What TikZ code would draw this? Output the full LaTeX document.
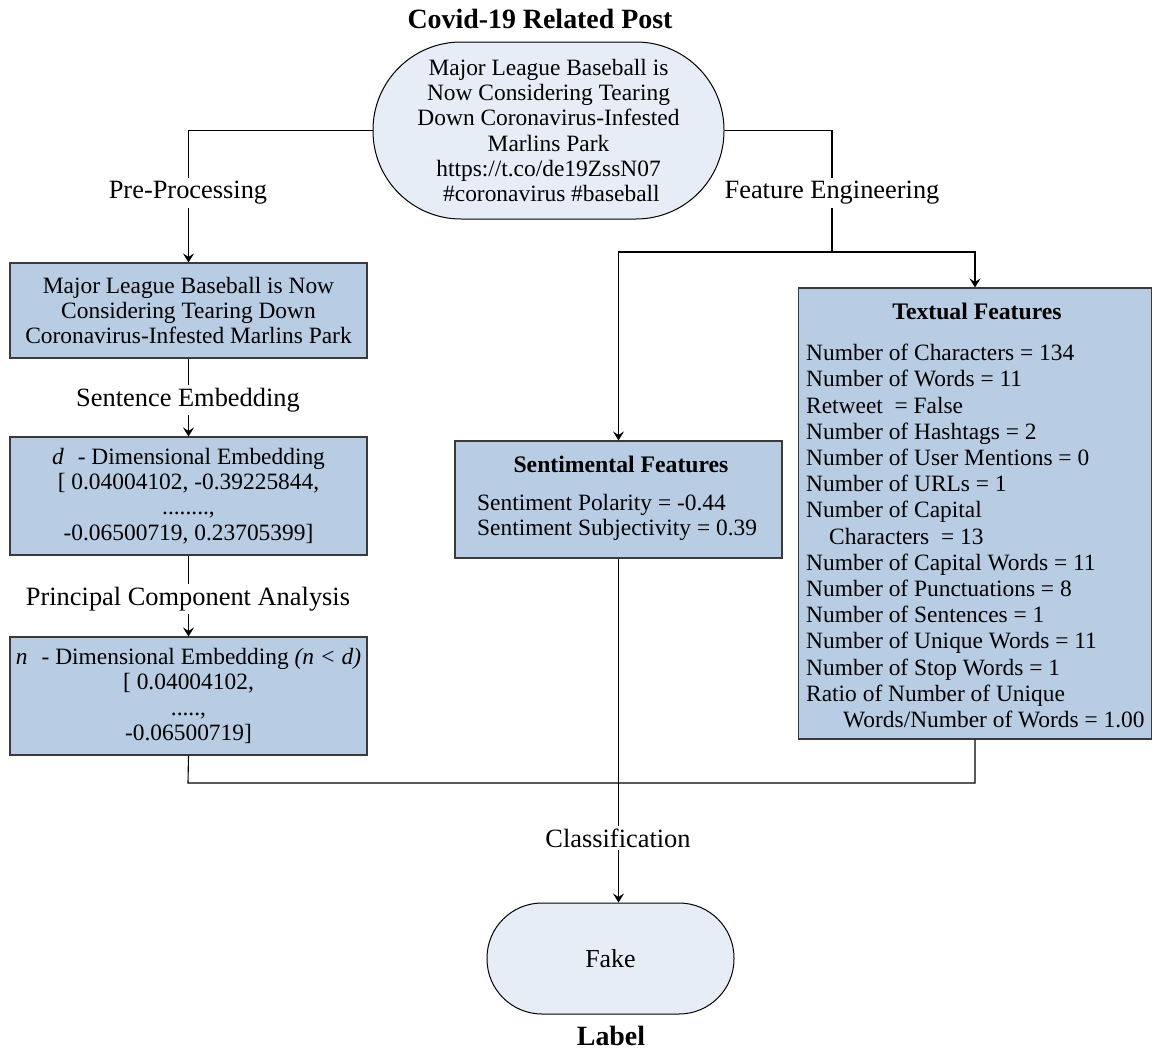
\documentclass[tikz,border=0pt]{standalone}
\usepackage{fontspec}
\setmainfont{Liberation Serif}
\usetikzlibrary{arrows.meta}
\definecolor{boxblue}{HTML}{B8CCE4}
\definecolor{paleblue}{HTML}{E6EDF7}
\definecolor{edgegray}{HTML}{3A3A3A}
\begin{document}
\begin{tikzpicture}[x=1bp,y=-1bp,
  every node/.style={font=\fontsize{23.5}{25.3}\selectfont, inner sep=0pt},
  box/.style={draw=edgegray, line width=1.1bp, fill=boxblue, rectangle, align=center},
  pill/.style={draw=black, line width=1bp, fill=paleblue, rectangle, align=center},
  lab/.style={fill=white, inner xsep=2bp, inner ysep=3bp, font=\fontsize{26.5}{30}\selectfont},
  conn/.style={line width=1.1bp, black},
  arr/.style={conn, -{Stealth[length=9bp,width=11bp,inset=3.5bp]}},
  ttl/.style={font=\fontsize{28}{32}\selectfont\bfseries},
  btl/.style={font=\fontsize{23.8}{28}\selectfont\bfseries}
]
\useasboundingbox (0,0) rectangle (1152,1052);

% title
\node[ttl] (title) at (540,19) {Covid-19 Related Post};
\node[pill, rounded corners=88bp, minimum width=351bp, minimum height=177bp] (post) at (548.5,130.5)
  {Major League Baseball is\\Now Considering Tearing\\Down Coronavirus-Infested\\Marlins Park\\https://t.co/de19ZssN07\\\ \#coronavirus \#baseball};

% left column
\node[box, minimum width=357bp, minimum height=95bp] (b1) at (188.5,310.5)
  {Major League Baseball is Now\\Considering Tearing Down\\Coronavirus-Infested Marlins Park};
\node[box, minimum width=357bp, minimum height=118bp] (b2) at (188.5,496)
  {\textit{d}\hspace{14bp}- Dimensional Embedding\\{}[ 0.04004102, -0.39225844,\\........,\\-0.06500719, 0.23705399]};
\node[box, minimum width=357bp, minimum height=118bp] (b3) at (188.5,696)
  {\textit{n}\hspace{14bp}- Dimensional Embedding \textit{(n < d)}\\{}[ 0.04004102,\\.....,\\-0.06500719]};

% sentimental
\node[box, minimum width=327bp, minimum height=117bp] (sf) at (618.5,499.5) {};
\node[btl] (sft) at (621,464) {Sentimental Features};
\node[anchor=west, align=left] (sfb) at (477,517.5) {Sentiment Polarity = -0.44\\Sentiment Subjectivity = 0.39};

% textual
\node[box, minimum width=353bp, minimum height=451bp] (tf) at (975,513.5) {};
\node[btl] (tft) at (977,311) {Textual Features};
\node[anchor=north west, align=left, font=\fontsize{23.5}{26.3}\selectfont] (tfb) at (806,344)
  {Number of Characters = 134\\
   Number of Words = 11\\
   Retweet\ \ = False\\
   Number of Hashtags = 2\\
   Number of User Mentions = 0\\
   Number of URLs = 1\\
   Number of Capital\\
   \hspace{23bp}Characters\ \ = 13\\
   Number of Capital Words = 11\\
   Number of Punctuations = 8\\
   Number of Sentences = 1\\
   Number of Unique Words = 11\\
   Number of Stop Words = 1\\
   Ratio of Number of Unique\\
   \hspace{37bp}Words/Number of Words = 1.00};

% label
\node[pill, rounded corners=55bp, minimum width=247bp, minimum height=111bp, font=\fontsize{26}{30}\selectfont] (fake) at (610.5,958.5) {Fake};
\node[ttl] (labl) at (611,1036) {Label};

% connectors
\coordinate (fe) at (832,252);
\coordinate (jn) at (188,783);
\draw[arr] (post.west) -| (b1.north);
\draw[conn] (post.east) -| (fe);
\draw[arr] (fe) -| (tf.north);
\draw[arr] (fe) -| (sf.north);
\draw[arr] (b1.south) -- (b2.north);
\draw[arr] (b2.south) -- (b3.north);
\draw[conn] (b3.south) -- (jn) -| (tf.south);
\draw[arr] (sf.south) -- (sf.south |- fake.north);

% labels on connectors
\node[lab] (pp) at (188,193) {Pre-Processing};
\node[lab] (feng) at (832,193) {Feature Engineering};
\node[lab] (se) at (188,400) {Sentence Embedding};
\node[lab] (pca) at (188,599) {Principal Component Analysis};
\node[lab] (cls) at (618,838) {Classification};
\end{tikzpicture}
\end{document}
